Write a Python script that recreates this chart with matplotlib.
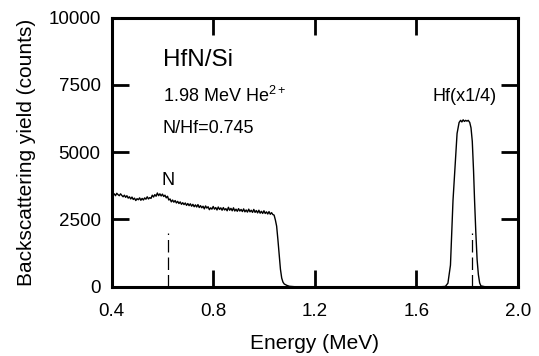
import numpy as np
import matplotlib
matplotlib.use("Agg")
import matplotlib.pyplot as plt

plt.rcParams['font.family'] = ['Liberation Sans', 'DejaVu Sans']
plt.rcParams['mathtext.fontset'] = 'custom'
plt.rcParams['mathtext.rm'] = 'Liberation Sans'
plt.rcParams['mathtext.default'] = 'regular'

# RBS spectrum (Energy in MeV, yield in counts)
# Si substrate + N plateau, 0.40 - 1.04 MeV
plateau_E = [0.400, 0.405, 0.410, 0.415, 0.420, 0.425, 0.430, 0.435, 0.440, 0.445,
             0.450, 0.455, 0.460, 0.465, 0.470, 0.475, 0.480, 0.485, 0.490, 0.495,
             0.500, 0.505, 0.510, 0.515, 0.520, 0.525, 0.530, 0.535, 0.540, 0.545,
             0.550, 0.555, 0.560, 0.565, 0.570, 0.575, 0.580, 0.585, 0.590, 0.595,
             0.600, 0.605, 0.610, 0.615, 0.620, 0.625, 0.630, 0.635, 0.640, 0.645,
             0.650, 0.655, 0.660, 0.665, 0.670, 0.675, 0.680, 0.685, 0.690, 0.695,
             0.700, 0.705, 0.710, 0.715, 0.720, 0.725, 0.730, 0.735, 0.740, 0.745,
             0.750, 0.755, 0.760, 0.765, 0.770, 0.775, 0.780, 0.785, 0.790, 0.795,
             0.800, 0.805, 0.810, 0.815, 0.820, 0.825, 0.830, 0.835, 0.840, 0.845,
             0.850, 0.855, 0.860, 0.865, 0.870, 0.875, 0.880, 0.885, 0.890, 0.895,
             0.900, 0.905, 0.910, 0.915, 0.920, 0.925, 0.930, 0.935, 0.940, 0.945,
             0.950, 0.955, 0.960, 0.965, 0.970, 0.975, 0.980, 0.985, 0.990, 0.995,
             1.000, 1.005, 1.010, 1.015, 1.020, 1.025, 1.030, 1.035, 1.040]
plateau_Y = [3480, 3400, 3450, 3380, 3470, 3420, 3380, 3450, 3390, 3340,
             3400, 3320, 3380, 3290, 3340, 3260, 3330, 3240, 3290, 3200,
             3270, 3230, 3300, 3210, 3280, 3220, 3300, 3250, 3340, 3260,
             3310, 3280, 3400, 3330, 3420, 3360, 3480, 3380, 3450, 3370,
             3440, 3350, 3400, 3300, 3360, 3220, 3260, 3150, 3220, 3140,
             3200, 3110, 3170, 3090, 3150, 3060, 3120, 3050, 3110, 3020,
             3090, 3010, 3080, 2990, 3060, 2970, 3040, 2960, 3050, 2940,
             3010, 2930, 2990, 2890, 3000, 2920, 2970, 2860, 2930, 2880,
             2980, 2880, 2940, 2850, 2960, 2870, 2930, 2840, 2940, 2850,
             2900, 2820, 2950, 2840, 2910, 2820, 2930, 2810, 2880, 2800,
             2900, 2810, 2870, 2790, 2890, 2780, 2850, 2770, 2880, 2780,
             2840, 2760, 2870, 2760, 2830, 2740, 2840, 2730, 2800, 2720,
             2820, 2720, 2780, 2700, 2790, 2690, 2750, 2680, 2660]

# falling edge, empty region and Hf peak (already scaled x1/4)
tail_E = [1.045, 1.050, 1.055, 1.060, 1.065, 1.070, 1.075, 1.080, 1.090, 1.100, 1.12,
          1.30, 1.70, 1.715, 1.725, 1.735, 1.745, 1.752, 1.756, 1.761, 1.769,
          1.775, 1.780, 1.785, 1.790, 1.795, 1.800, 1.805, 1.811, 1.816, 1.821,
          1.826, 1.830, 1.835, 1.840, 1.845, 1.850, 1.855, 1.87, 1.95]
tail_Y = [2480, 2250, 1750, 1200, 650, 320, 170, 100, 50, 15, 0,
          0, 0, 10, 130, 800, 3200, 4300, 4900, 5690, 6100,
          6180, 6120, 6200, 6140, 6180, 6150, 6180, 6100, 5900, 5400,
          4300, 3200, 2000, 1000, 450, 140, 30, 0, 0]

# surface energy markers (dashed)
marker_E = [0.62, 1.821]
marker_top = 2000

fig = plt.figure(figsize=(5.39, 3.56), dpi=100)
ax = fig.add_axes([0.2072, 0.1947, 0.7533, 0.7561])

ax.plot(plateau_E + tail_E, plateau_Y + tail_Y, color='black', lw=1.0)
for e in marker_E:
    ax.plot([e, e], [0, marker_top], color='black', lw=0.9, dashes=[10, 4])

ax.set_xlim(0.4, 2.0)
ax.set_ylim(0, 10000)
ax.set_xticks([0.4, 0.8, 1.2, 1.6, 2.0])
ax.set_xticklabels(['0.4', '0.8', '1.2', '1.6', '2.0'])
ax.set_yticks([0, 2500, 5000, 7500, 10000])

for s in ax.spines.values():
    s.set_linewidth(2.2)
ax.tick_params(direction='in', length=12, width=2, top=True, right=True,
               labelsize=13.5)
ax.tick_params(axis='x', pad=12)
ax.tick_params(axis='y', pad=8)

ax.set_xlabel('Energy (MeV)', fontsize=15, labelpad=10)
ax.set_ylabel('Backscattering yield (counts)', fontsize=15, labelpad=9)

ax.text(0.602, 8420, 'HfN/Si', fontsize=17.5, va='center', ha='left')
ax.text(0.602, 7084, '1.98 MeV He$^{2+}$', fontsize=13, va='center', ha='left')
ax.text(0.602, 5877, 'N/Hf=0.745', fontsize=13, va='center', ha='left')
ax.text(1.663, 7050, 'Hf(x1/4)', fontsize=13, va='center', ha='left')
ax.text(0.622, 3960, 'N', fontsize=13, va='center', ha='center')

fig.savefig('out.png', dpi=100)
